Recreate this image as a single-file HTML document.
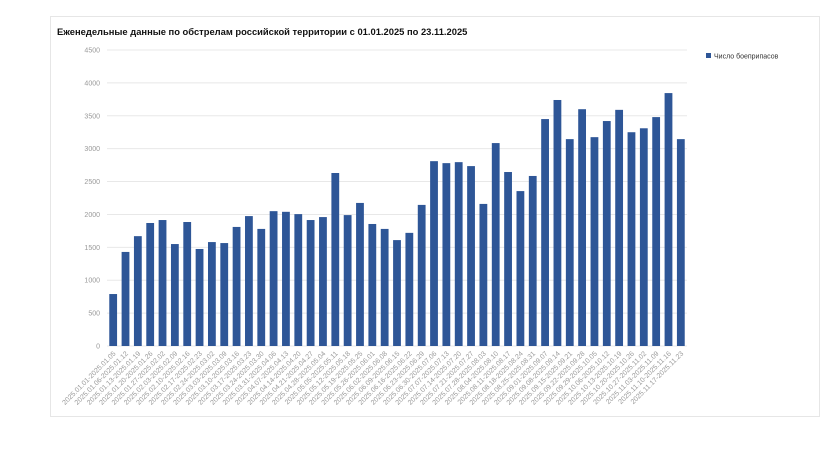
<!DOCTYPE html>
<html><head><meta charset="utf-8"><style>
body{margin:0;background:#fff;width:840px;height:465px;overflow:hidden;font-family:"Liberation Sans",sans-serif}
#card{position:absolute;left:50px;top:16px;width:770px;height:401px;border:1px solid #e6e6e6;box-sizing:border-box}
</style></head><body>
<div id="card"></div>
<svg id="chart" width="840" height="465" style="position:absolute;left:0;top:0">
<text x="57" y="35" font-size="9.4" font-weight="bold" fill="#111">Еженедельные данные по обстрелам российской территории с 01.01.2025 по 23.11.2025</text>
<g><rect x="706" y="53" width="5" height="5" fill="#2e5697"/><text x="714" y="58.5" font-size="7" fill="#333">Число боеприпасов</text></g>
<g id="grid"></g><g id="bars"></g><g id="xl"></g>
</svg>
<script>
const categories=["2025.01.01-2025.01.05","2025.01.06-2025.01.12","2025.01.13-2025.01.19","2025.01.20-2025.01.26","2025.01.27-2025.02.02","2025.02.03-2025.02.09","2025.02.10-2025.02.16","2025.02.17-2025.02.23","2025.02.24-2025.03.02","2025.03.03-2025.03.09","2025.03.10-2025.03.16","2025.03.17-2025.03.23","2025.03.24-2025.03.30","2025.03.31-2025.04.06","2025.04.07-2025.04.13","2025.04.14-2025.04.20","2025.04.21-2025.04.27","2025.04.28-2025.05.04","2025.05.05-2025.05.11","2025.05.12-2025.05.18","2025.05.19-2025.05.25","2025.05.26-2025.06.01","2025.06.02-2025.06.08","2025.06.09-2025.06.15","2025.06.16-2025.06.22","2025.06.23-2025.06.29","2025.06.30-2025.07.06","2025.07.07-2025.07.13","2025.07.14-2025.07.20","2025.07.21-2025.07.27","2025.07.28-2025.08.03","2025.08.04-2025.08.10","2025.08.11-2025.08.17","2025.08.18-2025.08.24","2025.08.25-2025.08.31","2025.09.01-2025.09.07","2025.09.08-2025.09.14","2025.09.15-2025.09.21","2025.09.22-2025.09.28","2025.09.29-2025.10.05","2025.10.06-2025.10.12","2025.10.13-2025.10.19","2025.10.20-2025.10.26","2025.10.27-2025.11.02","2025.11.03-2025.11.09","2025.11.10-2025.11.16","2025.11.17-2025.11.23"];
const values=[790,1430,1670,1870,1915,1550,1885,1475,1580,1565,1810,1975,1780,2050,2040,2005,1915,1960,2630,1990,2175,1855,1780,1610,1720,2145,2810,2780,2795,2735,2160,3085,2645,2355,2585,3450,3740,3145,3600,3175,3420,3590,3250,3310,3480,3845,3145];
const yTicks=[0,500,1000,1500,2000,2500,3000,3500,4000,4500];
const NS="http://www.w3.org/2000/svg";
const L=107,R=687,T=50,B=346,yMax=4500;
const y=v=>B-(v/yMax)*(B-T);
const band=(R-L)/categories.length;
const x=i=>L+band*i+band/2;
function mk(t,a,p){const e=document.createElementNS(NS,t);for(const k in a)e.setAttribute(k,a[k]);p.appendChild(e);return e;}
const g=document.getElementById('grid'),b=document.getElementById('bars'),xl=document.getElementById('xl');
yTicks.forEach(v=>{
  const ln=mk('line',{x1:L,x2:R,y1:y(v),y2:y(v),stroke:'#e8e8e8','stroke-width':1},g);
  
  
  const t=mk('text',{x:L-7,y:y(v)+2.5,'font-size':7,fill:'#999','text-anchor':'end'},g);
  t.textContent=v;
  
  
});
values.forEach((v,i)=>{
  const r=mk('rect',{x:x(i)-3.9,y:y(v),width:7.8,height:B-y(v),fill:'#2e5697'},b);
  
  
});
categories.forEach((c,i)=>{
  const t=mk('text',{'font-size':7,fill:'#999','text-anchor':'end',transform:`translate(${x(i)+3},${B+8}) rotate(-45)`},xl);
  t.textContent=c;
  
  
});
</script>
</body></html>
